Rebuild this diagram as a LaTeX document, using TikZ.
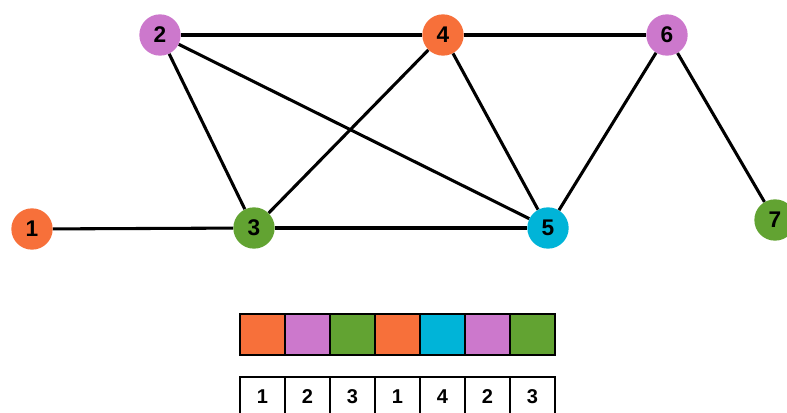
\documentclass[tikz,border=0pt]{standalone}
\usepackage{fontspec}
\setmainfont{Liberation Sans}
\definecolor{cor}{HTML}{F7703A}
\definecolor{cpu}{HTML}{CC78CC}
\definecolor{cgr}{HTML}{62A332}
\definecolor{ccy}{HTML}{00B4D8}
\newcommand{\vertfont}{\fontsize{17pt}{17pt}\selectfont\bfseries}
\newcommand{\cellfont}{\fontsize{15pt}{15pt}\selectfont\bfseries}
\tikzset{
  vert/.style={circle,minimum size=31pt,inner sep=0pt,font=\vertfont},
  edge/.style={line width=2.3pt,black},
  cell/.style={draw=black,line width=2.2pt,minimum width=33.75pt,minimum height=30.75pt,inner sep=0pt,font=\cellfont}
}
\begin{document}
\begin{tikzpicture}[x=0.75pt,y=-0.75pt]
\useasboundingbox (0,0) rectangle (787,413);
\clip (0,0) rectangle (787,413);
\fill[white] (0,0) rectangle (787,413);
\node[vert,fill=cor] (n1) at (32,229) {1};
\node[vert,fill=cpu] (n2) at (160,35) {2};
\node[vert,fill=cgr] (n3) at (254,228) {3};
\node[vert,fill=cor] (n4) at (443,35) {4};
\node[vert,fill=ccy] (n5) at (548,228) {5};
\node[vert,fill=cpu] (n6) at (667,35) {6};
\node[vert,fill=cgr] (n7) at (775,220) {7};
\draw[edge] (n1) -- (n3);
\draw[edge] (n2) -- (n3);
\draw[edge] (n2) -- (n5);
\draw[edge] (n2) -- (n4);
\draw[edge] (n3) -- (n4);
\draw[edge] (n3) -- (n5);
\draw[edge] (n4) -- (n5);
\draw[edge] (n4) -- (n6);
\draw[edge] (n5) -- (n6);
\draw[edge] (n6) -- (n7);
\foreach \c [count=\i] in {cor,cpu,cgr,cor,ccy,cpu,cgr}{
  \node[cell,fill=\c] (t\i) at ({240+45*(\i-0.5)},334.5) {};
}
\foreach \v [count=\i] in {1,2,3,1,4,2,3}{
  \node[cell,minimum height=36pt] (b\i) at ({240+45*(\i-0.5)},401) {\raisebox{6pt}{\v}};
}
\end{tikzpicture}
\end{document}
